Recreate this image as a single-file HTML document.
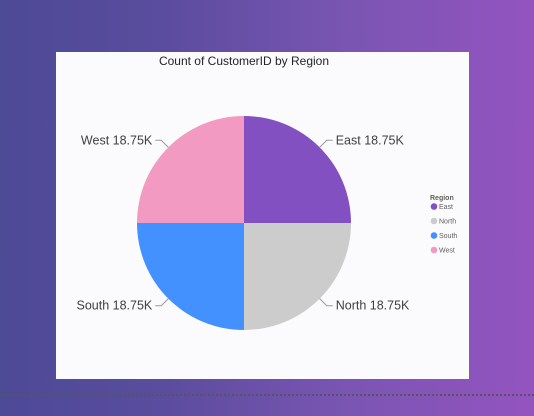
<!DOCTYPE html>
<html><head><meta charset="utf-8"><style>
html,body{margin:0;padding:0;width:534px;height:416px;overflow:hidden}
body{background:linear-gradient(90deg,#4d4a96 0%,#5a4c9e 30%,#7a55b2 65%,#9454c0 100%);position:relative;font-family:"Liberation Sans",sans-serif}
#card{position:absolute;left:56px;top:52px;width:413px;height:327px;background:#fbfafd}
#dots{position:absolute;left:0;top:394px;width:534px;height:0;border-top:2px dotted #55555f}
</style></head><body>
<div id="card">
<svg id="chart" width="413" height="327">
<text x="188" y="13" text-anchor="middle" font-size="12" fill="#252423">Count of CustomerID by Region</text>
<g id="slices"></g><g id="labels"></g>
<g id="legend">
<text x="374" y="148" font-size="7" font-weight="bold" fill="#605e5c">Region</text>
</g>
</svg>
</div>
<div id="dots"></div>
<script>
const categories=["East","North","South","West"];
const values=[18750,18750,18750,18750];
const valueLabels=["18.75K","18.75K","18.75K","18.75K"];
const colors=["#8350c2","#cccccc","#4390ff","#f29ac1"];
const ns="http://www.w3.org/2000/svg";
const cx=188,cy=171,r=107;
const total=values.reduce((a,b)=>a+b,0);
const sl=document.getElementById('slices'),lb=document.getElementById('labels'),lg=document.getElementById('legend');
let a0=-Math.PI/2;
values.forEach((v,i)=>{
 const a1=a0+v/total*2*Math.PI;
 const p=document.createElementNS(ns,'path');
 const x0=cx+r*Math.cos(a0),y0=cy+r*Math.sin(a0),x1=cx+r*Math.cos(a1),y1=cy+r*Math.sin(a1);
 p.setAttribute('d',`M${cx},${cy}L${x0},${y0}A${r},${r} 0 ${a1-a0>Math.PI?1:0} 1 ${x1},${y1}Z`);
 p.setAttribute('fill',colors[i]);
 
 
 sl.appendChild(p);
 const am=(a0+a1)/2,c=Math.cos(am),s=Math.sin(am);
 const ex=cx+r*c,ey=cy+r*s,mx=cx+(r+10)*c,my=cy+(r+10)*s,tx=mx+(c>0?6:-6);
 const ln=document.createElementNS(ns,'polyline');
 ln.setAttribute('points',`${ex},${ey} ${mx},${my} ${tx},${my}`);
 ln.setAttribute('fill','none');ln.setAttribute('stroke','#999');ln.setAttribute('stroke-width','1');
 
 
 lb.appendChild(ln);
 const t=document.createElementNS(ns,'text');
 t.setAttribute('x',tx+(c>0?3:-3));t.setAttribute('y',my+4);
 t.setAttribute('text-anchor',c>0?'start':'end');
 t.setAttribute('font-size','12.5');t.setAttribute('fill','#404040');
 t.textContent=categories[i]+' '+valueLabels[i];
 
 
 lb.appendChild(t);
 const ly=157+i*14.5;
 const d=document.createElementNS(ns,'circle');
 d.setAttribute('cx',378);d.setAttribute('cy',ly-2.5);d.setAttribute('r',3.3);d.setAttribute('fill',colors[i]);
 
 
 lg.appendChild(d);
 const lt=document.createElementNS(ns,'text');
 lt.setAttribute('x',383);lt.setAttribute('y',ly);lt.setAttribute('font-size','7');lt.setAttribute('fill','#605e5c');
 lt.textContent=categories[i];
 
 
 lg.appendChild(lt);
 a0=a1;
});
</script>
</body></html>
